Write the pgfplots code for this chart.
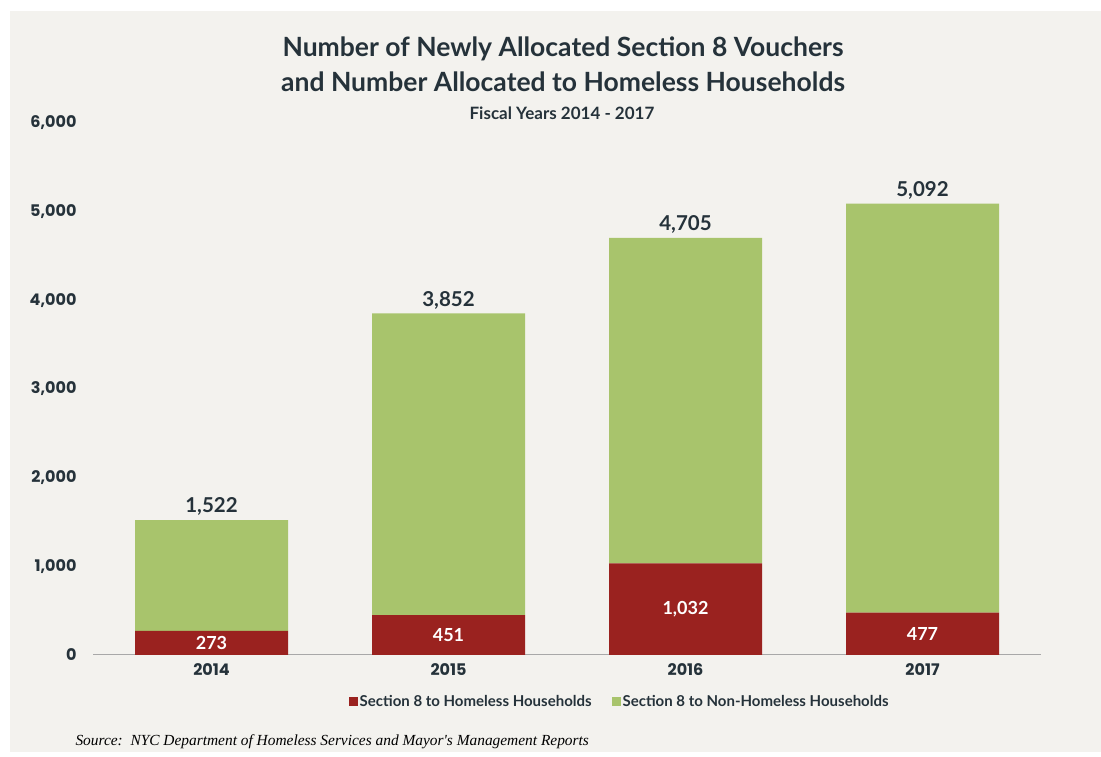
\documentclass[border=0pt]{standalone}
\usepackage{fontspec}
\setmainfont{Lato}
\newfontfamily\popfont{Poppins}
\newfontfamily\srcfont{Liberation Serif}
\usepackage{pgfplots}
\usepackage{pgfplotstable}
\pgfplotsset{compat=1.18}
\definecolor{bgc}{HTML}{F3F2EE}
\definecolor{hred}{HTML}{9A221F}
\definecolor{ngreen}{HTML}{A8C46C}
\definecolor{txt}{HTML}{25323A}
\definecolor{axgray}{HTML}{A8A8A8}
\pgfplotstableread{
x year homeless nonhomeless total
0 2014 273 1249 1522
1 2015 451 3401 3852
2 2016 1032 3673 4705
3 2017 477 4615 5092
}\datatable
\begin{document}
\begin{tikzpicture}[x=1pt,y=1pt]
\useasboundingbox (0,0) rectangle (1101,757);
\fill[bgc] (10,5) rectangle (1101,746);
\node[align=center, text=txt, font=\bfseries\fontsize{26.5}{35}\selectfont] at (563,693) {Number of Newly Allocated Section 8 Vouchers\\and Number Allocated to Homeless Households};
\node[text=txt, font=\bfseries\fontsize{17}{18}\selectfont] at (562,644) {Fiscal Years 2014 - 2017};
\node[anchor=west, text=black, font=\srcfont\itshape\fontsize{15.4}{17}\selectfont] at (72,15) {Source:\ \ NYC Department of Homeless Services and Mayor's Management Reports};
\begin{axis}[
  at={(93pt,102pt)}, anchor=south west,
  scale only axis, width=948pt, height=532pt,
  ybar stacked, bar width=153pt,
  xmin=-0.5, xmax=3.5, ymin=0, ymax=6000,
  xtick={0,1,2,3}, xticklabels={2014,2015,2016,2017},
  ytick={0,1000,2000,3000,4000,5000,6000},
  axis lines*=left,
  y axis line style={draw=none},
  x axis line style={draw=axgray, line width=1pt},
  major tick length=0pt,
  /pgf/number format/.cd, 1000 sep={,}, assume math mode=true,
  /pgfplots/.cd,
  yticklabel style={font=\popfont\bfseries\fontsize{16}{16}\selectfont, text=txt, xshift=-13pt},
  xticklabel style={font=\popfont\bfseries\fontsize{16}{16}\selectfont, text=txt, yshift=-5pt},
  legend columns=-1,
  legend style={draw=none, fill=none, at={(axis description cs:0.5555,0)}, anchor=north, yshift=-36pt,
    font=\bfseries\fontsize{15}{16}\selectfont, text=txt,
    /tikz/every even column/.append style={column sep=18pt}},
]
\addplot[fill=hred, draw=none, legend image code/.code={\path[fill=hred] (0pt,-4.5pt) rectangle (9pt,4.5pt);}] table[x=x, y=homeless] {\datatable};
\addlegendentry{Section 8 to Homeless Households}
\addplot[fill=ngreen, draw=none, legend image code/.code={\path[fill=ngreen] (0pt,-4.5pt) rectangle (9pt,4.5pt);}] table[x=x, y=nonhomeless] {\datatable};
\addlegendentry{Section 8 to Non-Homeless Households}
\end{axis}
\begin{axis}[
  at={(93pt,102pt)}, anchor=south west,
  scale only axis, width=948pt, height=532pt,
  xmin=-0.5, xmax=3.5, ymin=0, ymax=6000,
  hide axis, clip=false,
  /pgf/number format/.cd, 1000 sep={,}, assume math mode=true,
]
\addplot[draw=none, mark=none, nodes near coords, point meta=explicit, nodes near coords align=center,
  every node near coord/.append style={font=\bfseries\fontsize{18}{20}\selectfont, text=white, anchor=center}]
  table[x=x, y expr=\thisrow{homeless}/2, meta=homeless] {\datatable};
\addplot[draw=none, mark=none, nodes near coords, point meta=explicit, nodes near coords align=south,
  every node near coord/.append style={font=\bfseries\fontsize{20.5}{22}\selectfont, text=txt, anchor=south, yshift=1pt}]
  table[x=x, y=total, meta=total] {\datatable};
\end{axis}
\end{tikzpicture}
\end{document}
